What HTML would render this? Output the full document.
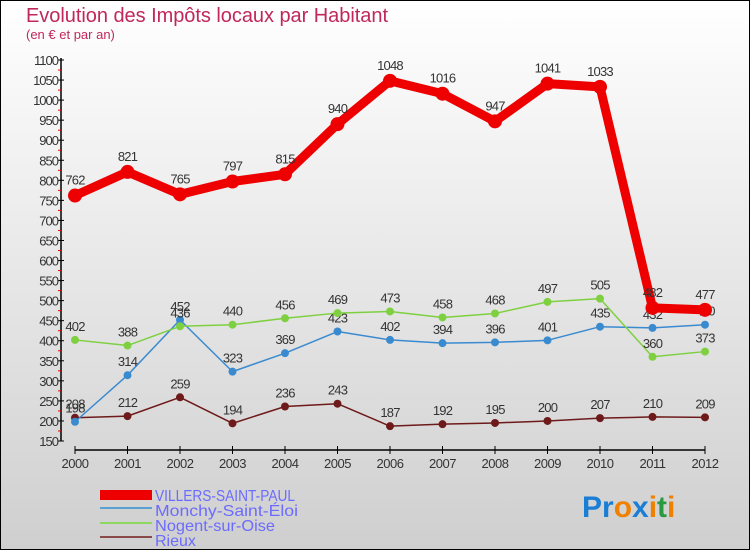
<!DOCTYPE html>
<html><head><meta charset="utf-8"><style>
body{margin:0;width:750px;height:550px;overflow:hidden;font-family:"Liberation Sans",sans-serif}
svg{display:block}
</style></head><body>
<svg id="chart" width="750" height="550">
<defs><linearGradient id="bg" x1="0" y1="0" x2="0" y2="1"><stop offset="0" stop-color="#ffffff"/><stop offset="1" stop-color="#cfcfcf"/></linearGradient></defs>
<rect x="0.5" y="0.5" width="749" height="549" fill="url(#bg)" stroke="#000"/>
<text x="26" y="22" font-size="20" fill="#c0285a" textLength="362">Evolution des Impôts locaux par Habitant</text>
<text x="26" y="39" font-size="13" fill="#c0285a">(en € et par an)</text>
<g id="axes"></g><g id="series"></g>
<g>
<rect x="100" y="490" width="52" height="10" fill="#e00"/>
<text x="155" y="501" font-size="16" fill="#6b6bff" textLength="140" lengthAdjust="spacingAndGlyphs">VILLERS-SAINT-PAUL</text>
<line x1="100" y1="508" x2="152" y2="508" stroke="#5aa0d0" stroke-width="2"/>
<text x="155" y="516" font-size="16" fill="#6b6bff" textLength="143" lengthAdjust="spacingAndGlyphs">Monchy-Saint-Éloi</text>
<line x1="100" y1="523" x2="152" y2="523" stroke="#8fd860" stroke-width="2"/>
<text x="155" y="531" font-size="16" fill="#6b6bff" textLength="120" lengthAdjust="spacingAndGlyphs">Nogent-sur-Oise</text>
<line x1="100" y1="537" x2="152" y2="537" stroke="#8a4a4a" stroke-width="2"/>
<text x="155" y="546" font-size="16" fill="#6b6bff">Rieux</text>
</g>
<text x="582" y="517" font-size="30" font-weight="bold"><tspan fill="#1a7fd4">Pr</tspan><tspan fill="#f08000">o</tspan><tspan fill="#1a7fd4">x</tspan><tspan fill="#f08000">i</tspan><tspan fill="#2a9a40">t</tspan><tspan fill="#f08000">i</tspan></text>
</svg>
<script>
const years=[2000,2001,2002,2003,2004,2005,2006,2007,2008,2009,2010,2011,2012];
const villers=[762,821,765,797,815,940,1048,1016,947,1041,1033,482,477];
const monchy=[198,314,452,323,369,423,402,394,396,401,435,432,440];
const nogent=[402,388,436,440,456,469,473,458,468,497,505,360,373];
const rieux=[208,212,259,194,236,243,187,192,195,200,207,210,209];
const yTicks=[150,200,250,300,350,400,450,500,550,600,650,700,750,800,850,900,950,1000,1050,1100];
const NS='http://www.w3.org/2000/svg';
const X=i=>75+i*(705-75)/(years.length-1);
const Y=v=>441-(v-150)*(441-60)/950;
function mk(t,a,p){const e=document.createElementNS(NS,t);for(const k in a)e.setAttribute(k,a[k]);p.appendChild(e);return e;}
const ax=document.getElementById('axes');
mk('line',{x1:61,y1:58,x2:61,y2:441,stroke:'#000','stroke-width':1.5},ax);
mk('line',{x1:75,y1:450,x2:705,y2:450,stroke:'#000','stroke-width':1.5},ax);
yTicks.forEach(v=>{
 mk('line',{x1:58,y1:Y(v),x2:64,y2:Y(v),stroke:'#000'},ax);
 if(v<1100)mk('line',{x1:58,y1:Y(v+25),x2:61,y2:Y(v+25),stroke:'#e00'},ax);
 const t=mk('text',{x:58,y:Y(v)+5,'font-size':13,'text-anchor':'end',fill:'#333','letter-spacing':'-1'},ax);t.textContent=v;
 
 
});
years.forEach((y,i)=>{
 mk('line',{x1:X(i),y1:446,x2:X(i),y2:454,stroke:'#000'},ax);
 const t=mk('text',{x:X(i),y:468,'font-size':13,'text-anchor':'middle',fill:'#333','letter-spacing':'-0.5'},ax);t.textContent=y;
 
 
});
const sg=document.getElementById('series');
function series(vals,color,w,r,name){
 const g=mk('g',{},sg);
 
 
 mk('polyline',{points:vals.map((v,i)=>X(i)+','+Y(v)).join(' '),fill:'none',stroke:color,'stroke-width':w,'stroke-linejoin':'round'},g);
 vals.forEach((v,i)=>{
  const c=mk('circle',{cx:X(i),cy:Y(v),r:r,fill:color},g);
  
  
  const t=mk('text',{x:X(i),y:Y(v)-9-(r>5?2:0),'font-size':13,'text-anchor':'middle',fill:'#333','letter-spacing':'-0.8'},g);t.textContent=v;
  
  
 });
}
series(rieux,'#6e1a1a',1.5,4,'series-rieux');
series(monchy,'#3a8ad0',1.5,4,'series-monchy');
series(nogent,'#7ed040',1.5,4,'series-nogent');
series(villers,'#ee0000',9,7,'series-villers');
</script>
</body></html>
